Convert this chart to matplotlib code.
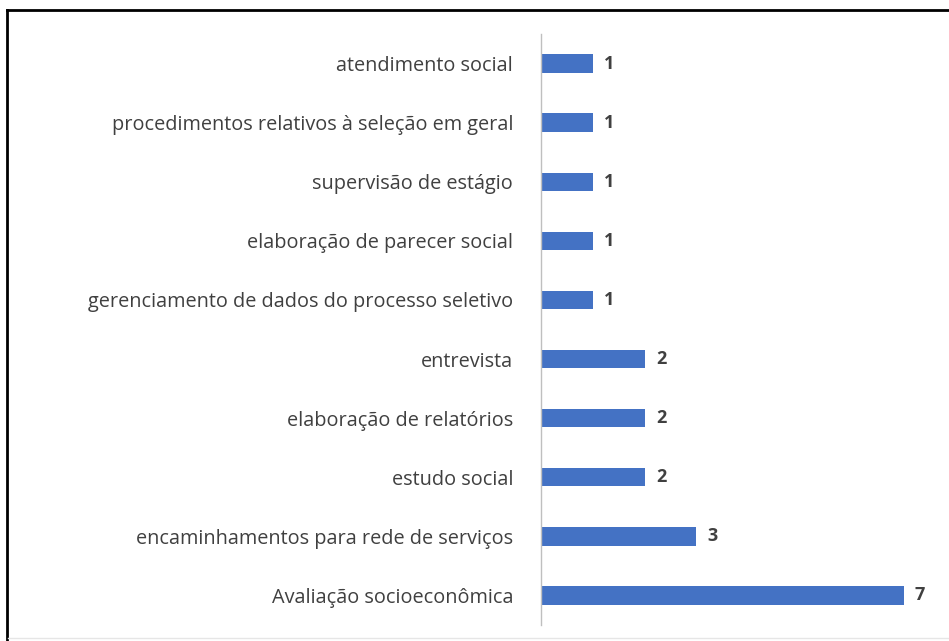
import matplotlib
matplotlib.use("Agg")
import matplotlib.pyplot as plt
from matplotlib.lines import Line2D

categories = [
    "Avaliação socioeconômica",
    "encaminhamentos para rede de serviços",
    "estudo social",
    "elaboração de relatórios",
    "entrevista",
    "gerenciamento de dados do processo seletivo",
    "elaboração de parecer social",
    "supervisão de estágio",
    "procedimentos relativos à seleção em geral",
    "atendimento social",
]
values = [7, 3, 2, 2, 2, 1, 1, 1, 1, 1]

plt.rcParams['font.family'] = ['Open Sans', 'DejaVu Sans']

W, H = 949, 641
fig = plt.figure(figsize=(W / 100, H / 100), dpi=100)
fig.patch.set_facecolor("white")

ax_left = 541 / W
ax_right = (541 + 7.5 * 51.8) / W
ax_top = 1 - 34 / H
ax_bottom = 1 - 625 / H
ax = fig.add_axes([ax_left, ax_bottom, ax_right - ax_left, ax_top - ax_bottom])

y = list(range(len(categories)))
ax.barh(y, values, height=0.31, color="#4472C4", zorder=2)
ax.set_xlim(0, 7.5)
ax.set_ylim(-0.5, len(categories) - 0.5)
ax.set_yticks(y)
ax.set_yticklabels(categories, fontsize=14.3, color="#404040")
ax.tick_params(axis="y", length=0, pad=20)
ax.set_xticks([])
for s in ["top", "right", "bottom"]:
    ax.spines[s].set_visible(False)
ax.spines["left"].set_color("#BFBFBF")
ax.spines["left"].set_linewidth(1)

for yi, v in zip(y, values):
    ax.text(v + 0.22, yi, str(v), va="center", ha="left", fontsize=13,
            color="#404040", fontweight="bold")

# outer frame lines
fig.add_artist(Line2D([7 / W, 1], [1 - 10 / H, 1 - 10 / H], color="black", lw=2,
                      transform=fig.transFigure))
fig.add_artist(Line2D([7 / W, 7 / W], [0, 1 - 10 / H], color="black", lw=2,
                      transform=fig.transFigure))
fig.add_artist(Line2D([8 / W, 1], [1 - 638 / H, 1 - 638 / H], color="#E6E6E6", lw=1,
                      transform=fig.transFigure))

fig.savefig("out.png", dpi=100, facecolor="white")
